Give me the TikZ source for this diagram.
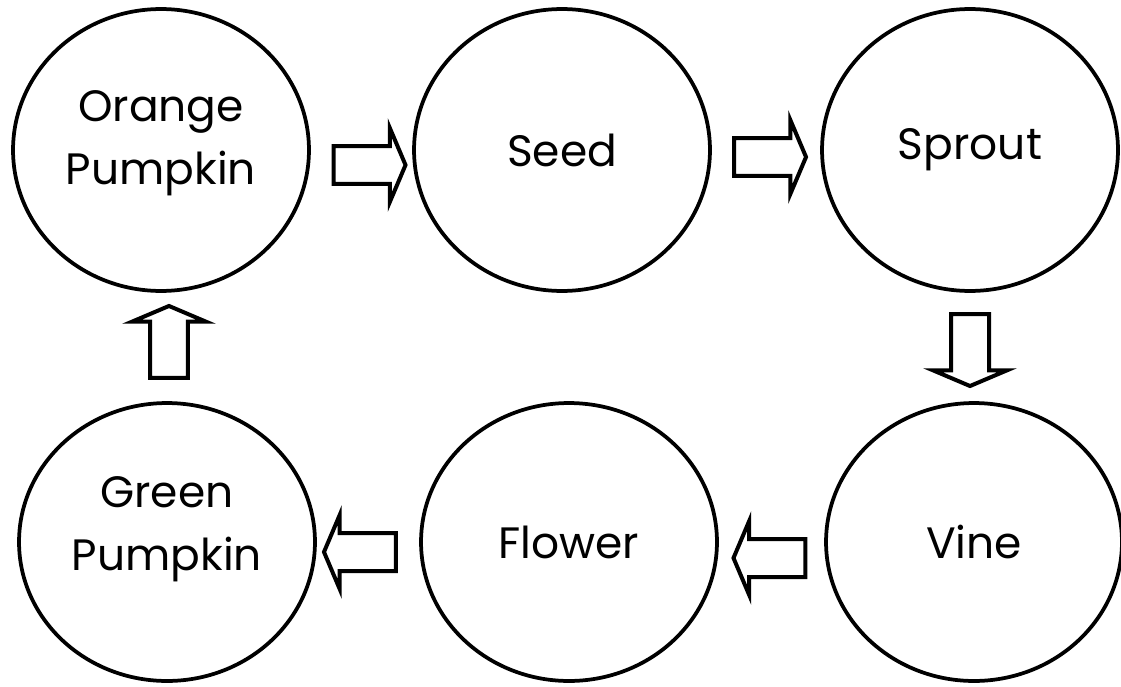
\documentclass[tikz,border=0pt]{standalone}
\usepackage{fontspec}
\setmainfont{Poppins}
\usetikzlibrary{shapes.geometric,shapes.arrows,positioning,calc}

\begin{document}
\begin{tikzpicture}[
  x=0.02cm, y=-0.02cm,
  stage/.style={ellipse, draw=black, line width=0.075cm, minimum width=5.92cm, minimum height=5.64cm, inner sep=0pt, align=center, font=\fontsize{25}{36}\selectfont},
  twoline/.style={align=center, inner sep=0pt, font=\fontsize{25}{36}\selectfont},
  flow/.style={single arrow, draw=black, fill=white, line width=0.08cm, minimum height=1.44cm, minimum width=1.4cm, single arrow head extend=0.36cm, single arrow tip angle=134, inner xsep=0pt, inner ysep=0.34cm}
]
\useasboundingbox (0,0) rectangle (1121,686);

% Top row
\node[stage, label={[twoline, yshift=0.14cm]center:Orange\\Pumpkin}] (orange) at (161,150) {};
\node[stage] (seed) at (562,150) {Seed};
\node[stage] (sprout) at (970,150) {\raisebox{0.1cm}{Sprout}};

% Bottom row
\node[stage, minimum height=5.56cm, label={[twoline, yshift=0.26cm]center:Green\\Pumpkin}] (green) at (167,542) {};
\node[stage, minimum height=5.56cm] (flower) at (569,542) {Flower};
\node[stage, minimum height=5.56cm] (vine) at (974,542) {Vine};

% Arrows between stages
\node[flow] (a1) at ($(orange)!0.5!(seed)+(4,15)$) {};
\node[flow] (a2) at ($(seed)!0.5!(sprout)+(0,7)$) {};
\node[flow, rotate=-90] (a3) at ($(sprout)!0.5!(vine)+(-2,0)$) {};
\node[flow, rotate=180] (a4) at ($(vine)!0.5!(flower)+(2,16)$) {};
\node[flow, rotate=180] (a5) at ($(flower)!0.5!(green)+(-4,10)$) {};
\node[flow, rotate=90] (a6) at ($(green)!0.5!(orange)+(5,0)$) {};

\end{tikzpicture}
\end{document}
